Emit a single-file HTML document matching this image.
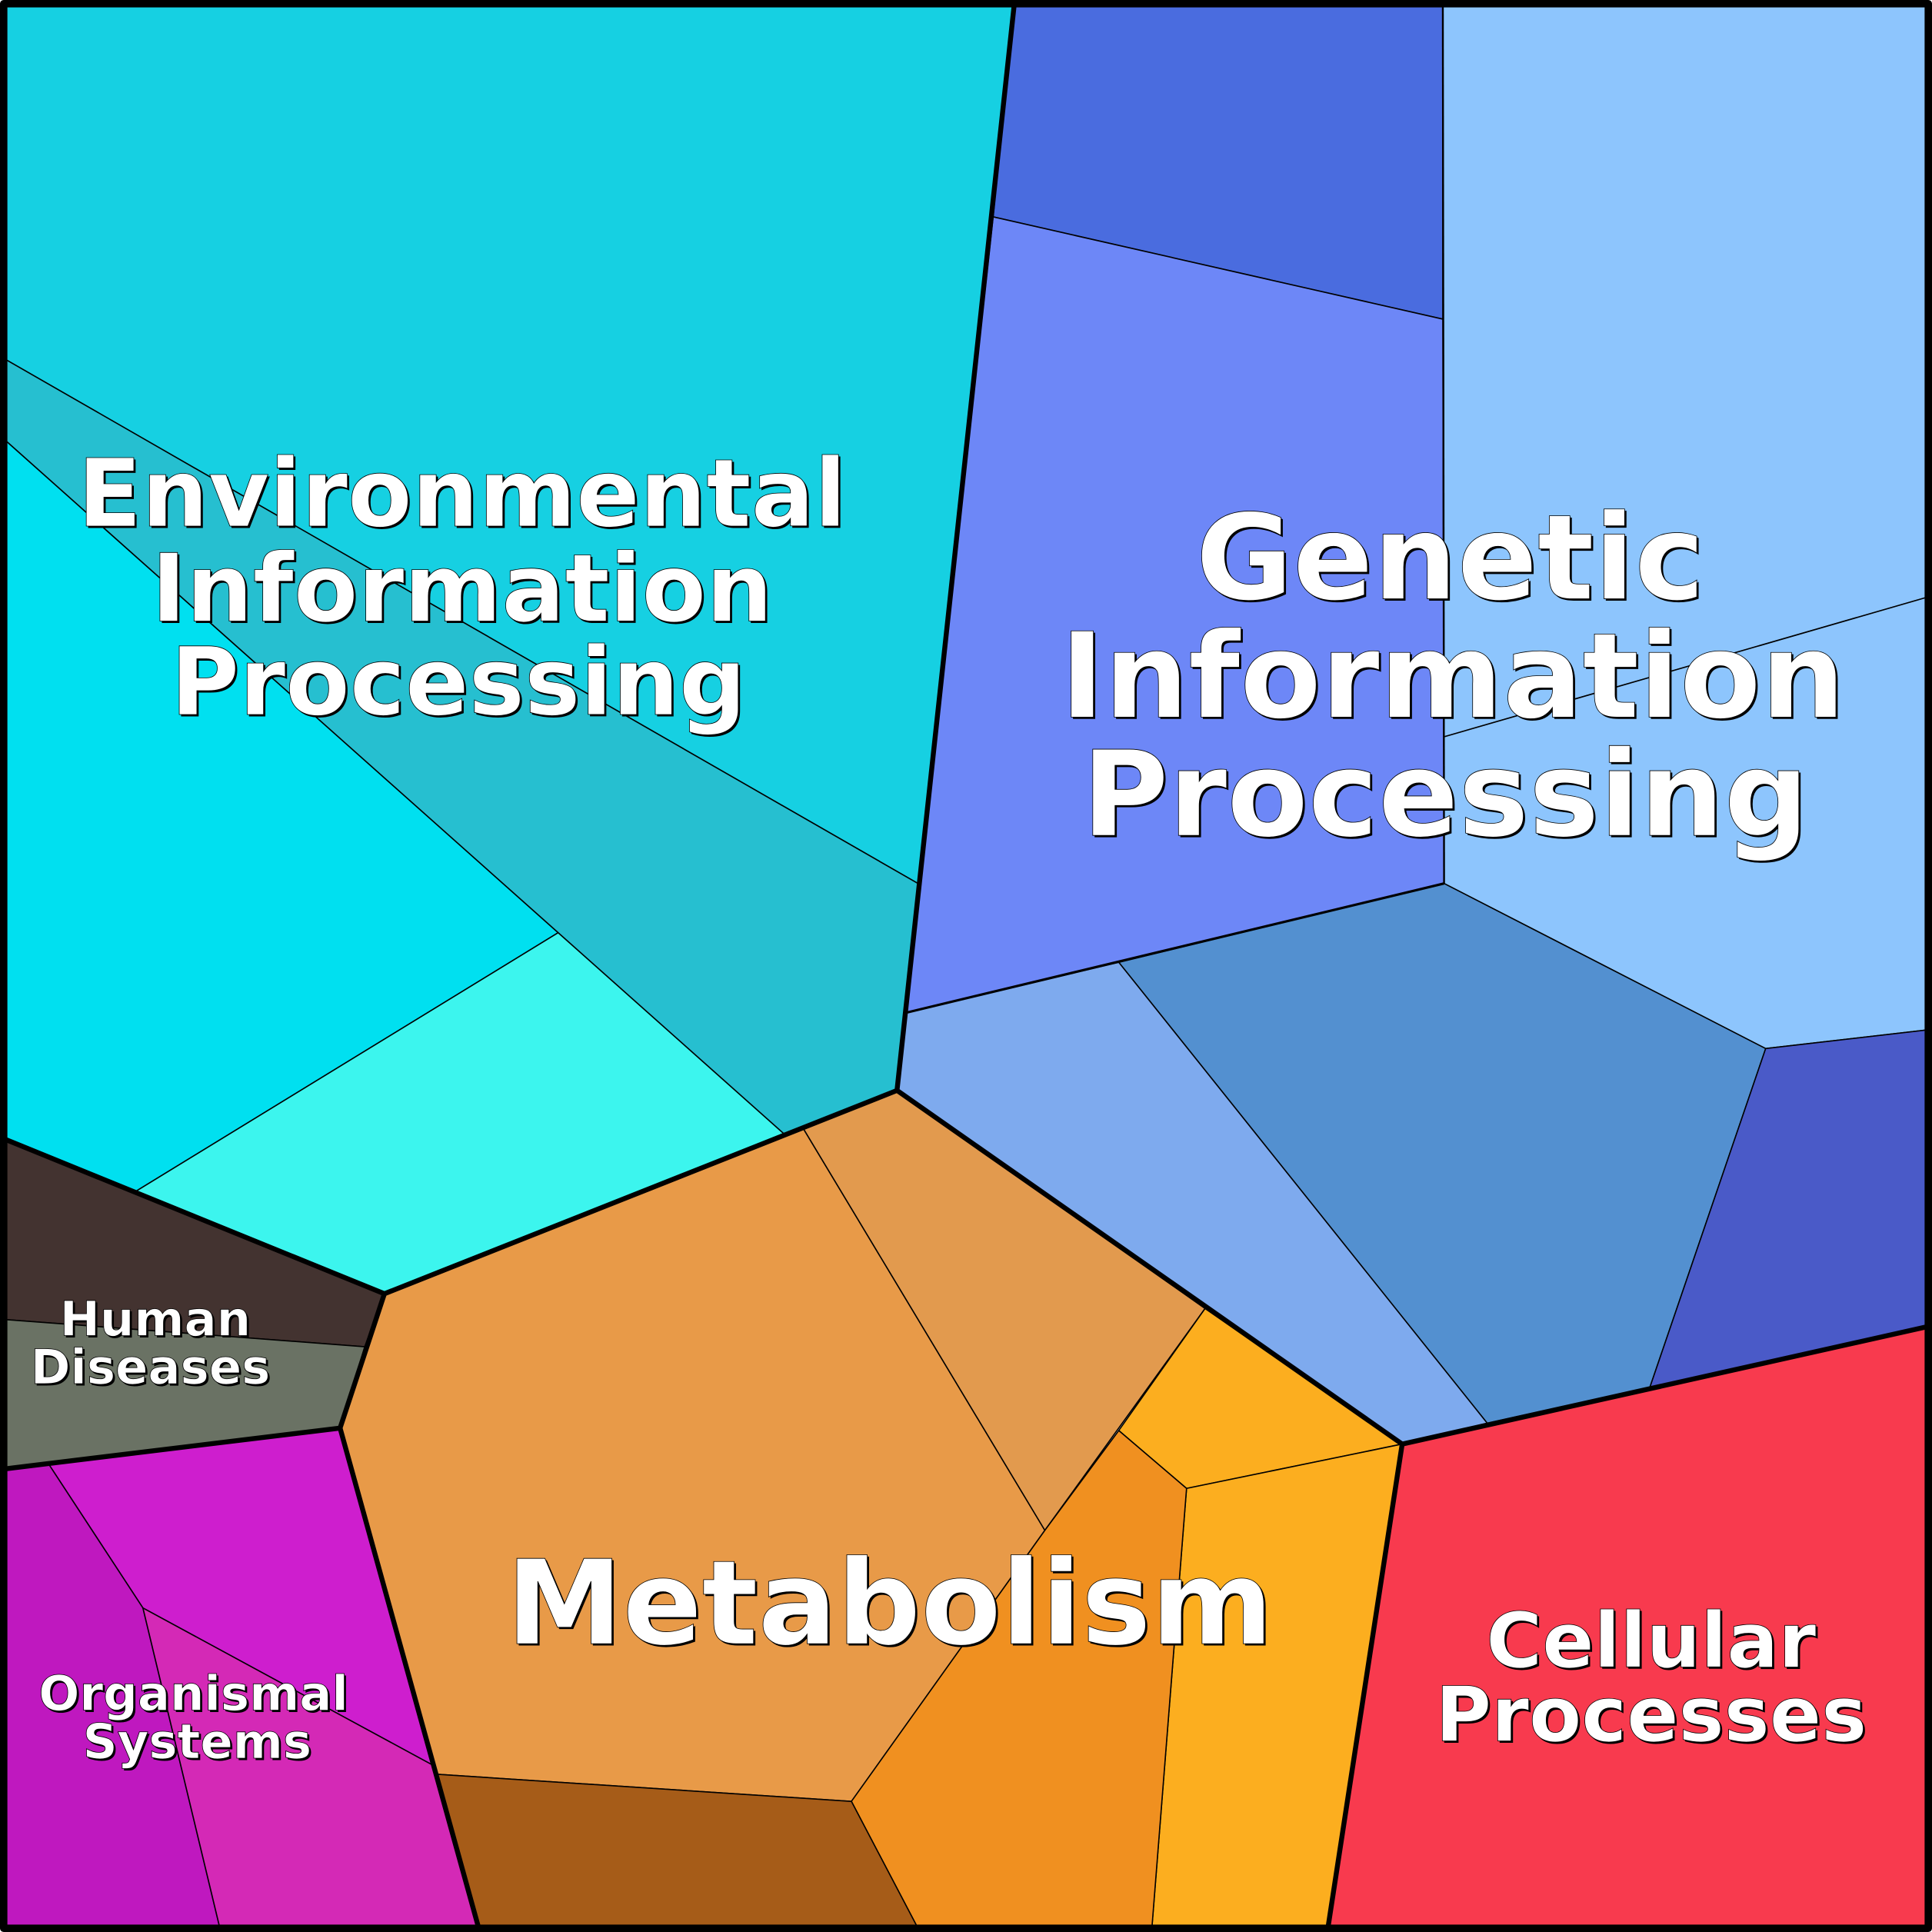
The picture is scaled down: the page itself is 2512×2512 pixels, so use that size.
<!DOCTYPE html>
<html><head><meta charset="utf-8"><style>
html,body{margin:0;padding:0;background:#fff;}
svg{display:block;}
text{font-family:"DejaVu Sans","Liberation Sans",sans-serif;font-weight:bold;text-anchor:middle;}
.sh{fill:#000;}
.fg{fill:#fff;stroke:#000;stroke-width:0.5;}
</style></head><body>
<svg width="2512" height="2512" viewBox="0 0 1568 1568" xmlns="http://www.w3.org/2000/svg">
<defs>
<g id="labels">
<text x="375" y="427" font-size="76">Environmental</text>
<text x="375" y="504" font-size="76">Information</text>
<text x="372" y="580" font-size="76">Processing</text>
<text x="1177" y="486" font-size="96">Genetic</text>
<text x="1179" y="582" font-size="96">Information</text>
<text x="1173" y="678" font-size="96">Processing</text>
<text x="722" y="1334" font-size="95">Metabolism</text>
<text x="1340" y="1353" font-size="62">Cellular</text>
<text x="1340" y="1413" font-size="62">Processes</text>
<text x="126" y="1084" font-size="39">Human</text>
<text x="122" y="1123" font-size="39">Diseases</text>
<text x="157" y="1388" font-size="39">Organismal</text>
<text x="160" y="1427" font-size="39">Systems</text>
</g>
</defs>
<g stroke="#000" stroke-width="1" stroke-linejoin="round">
<polygon fill="#16D0E2" points="5,5 823,5 745,717 5,292"/>
<polygon fill="#26BFD0" points="5,292 745,717 728,885 636,920 5,358"/>
<polygon fill="#00E0F0" points="5,358 453,757 110,967 5,925"/>
<polygon fill="#3CF5EE" points="453,757 636,920 312,1050 110,967"/>
<polygon fill="#4A6CDF" points="823,5 1171,5 1171,259 806,176"/>
<polygon fill="#6D87F7" points="806,176 1171,259 1172,717 908,781 735,822"/>
<polygon fill="#8DC5FD" points="1171,5 1563,5 1563,485 1172,598"/>
<polygon fill="#8DC5FD" points="1172,598 1563,485 1563,836 1433,851 1172,717"/>
<polygon fill="#5390D0" points="908,781 1172,717 1433,851 1339,1126 1207,1155"/>
<polygon fill="#7EAAEE" points="735,822 908,781 1207,1155 1138,1172 978,1062 728,885"/>
<polygon fill="#4A5AC8" points="1433,851 1563,836 1563,1077 1339,1126"/>
<polygon fill="#F83A4E" points="1138,1172 1563,1077 1563,1563 1078,1563"/>
<polygon fill="#E89A48" points="312,1050 636,920 652,916 848,1242 691,1462 355,1440 276,1159"/>
<polygon fill="#E29A4E" points="652,916 728,885 978,1062 848,1242"/>
<polygon fill="#FCAE1F" points="978,1062 1138,1172 963,1208 908,1161"/>
<polygon fill="#FCAE1F" points="963,1208 1138,1172 1078,1563 935,1563"/>
<polygon fill="#F09020" points="908,1161 963,1208 935,1563 744,1563 691,1462 848,1242"/>
<polygon fill="#A65C18" points="355,1440 691,1462 744,1563 388,1563"/>
<polygon fill="#433330" points="5,925 312,1050 296,1093 5,1071"/>
<polygon fill="#6A7264" points="5,1071 296,1093 276,1159 5,1192"/>
<polygon fill="#CE1ECE" points="40,1189 276,1159 352,1433 116,1305"/>
<polygon fill="#BF18BF" points="5,1192 40,1189 116,1305 178,1563 5,1563"/>
<polygon fill="#D429B6" points="116,1305 352,1433 388,1563 178,1563"/>
</g>
<g fill="none" stroke="#000" stroke-linejoin="round">
<polyline stroke-width="4" points="823,5 728,885 1138,1172 1078,1563"/>
<polyline stroke-width="4" points="1138,1172 1563,1077"/>
<polyline stroke-width="4" points="5,925 312,1050 728,885"/>
<polyline stroke-width="4" points="312,1050 276,1159 388,1563"/>
<polyline stroke-width="4" points="276,1159 5,1192"/>
<polyline stroke-width="2" points="735,822 1172,717"/>
<polyline stroke-width="1.5" points="1172,717 1171,5"/>
<rect x="3" y="3" width="1562" height="1562" stroke-width="6"/>
</g>
<use href="#labels" class="sh" transform="translate(1.5,1.5)"/>
<use href="#labels" class="fg"/>
</svg>
</body></html>
